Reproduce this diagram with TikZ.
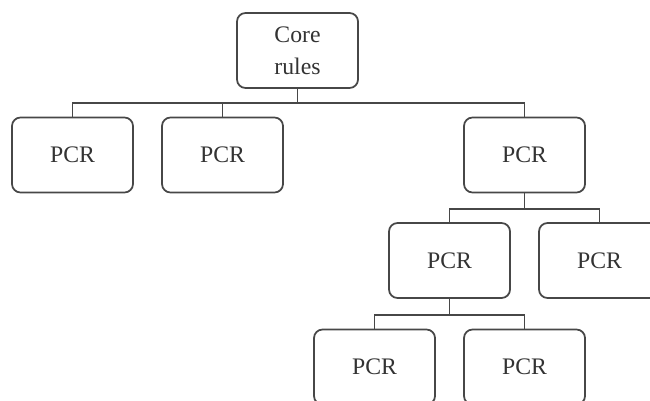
\documentclass[tikz,border=0pt]{standalone}
\usepackage{fontspec}
\setmainfont{Liberation Serif}
\usepackage{tikz}
\usetikzlibrary{positioning}

\begin{document}
\begin{tikzpicture}[-,node distance=3cm, line width=1pt]
	\tikzstyle{every node}=[draw=black!72, text=black!80, rounded corners=0.17cm, minimum width=2.42cm, minimum height=1.5cm, inner sep=0pt, font=\fontsize{13.5}{18}\selectfont, align=center]
	\useasboundingbox (0,0) rectangle (13,-8);
	\clip (0,0) rectangle (13,-8);
		\node (R) at (5.95,-1.01) {Core\\rules};
		\node (1) at (1.45,-3.10) {PCR};
		\node (2) [right of=1] {PCR};
		\node (3) at (10.49,-3.10) {PCR};
		\node (4) at (8.99,-5.21) {PCR};
		\node (5) [right of=4] {PCR};
		\node (6) at (7.49,-7.34) {PCR};
		\node (7) [right of=6] {PCR};

		\foreach \j in {1,2,3}{
			\draw[black!72] (R.south) -- ++(0,-0.29) -| (\j.north);
			}
		\foreach \j in {4,5}{
			\draw[black!72] (3.south) -- ++(0,-0.31) -| (\j.north);
			}
		\foreach \j in {6,7}{
			\draw[black!72] (4.south) -- ++(0,-0.32) -| (\j.north);
			}
\end{tikzpicture}
\end{document}
